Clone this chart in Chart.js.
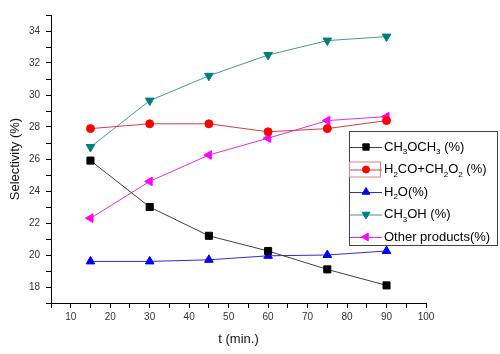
<!DOCTYPE html>
<html>
<head>
<meta charset="utf-8">
<script src="https://cdn.jsdelivr.net/npm/chart.js@4.4.0/dist/chart.umd.min.js"></script>
<style>
  body { margin: 0; background: #fff; }
  canvas { display: block; }
</style>
</head>
<body>
<canvas id="selectivityChart" width="500" height="354"></canvas>
<script>
// time points (min.)
const times = [15, 30, 45, 60, 75, 90];

// selectivity values (%)
const ch3och3 = [25.9, 23.0, 21.2, 20.25, 19.1, 18.1];
const h2coCh2o2 = [27.9, 28.2, 28.2, 27.7, 27.9, 28.4];
const h2o = [19.6, 19.6, 19.7, 19.95, 20.0, 20.25];
const ch3oh = [26.75, 29.65, 31.2, 32.5, 33.4, 33.65];
const otherProducts = [22.3, 24.6, 26.25, 27.3, 28.4, 28.65];

const xTickLabels = [10, 20, 30, 40, 50, 60, 70, 80, 90, 100];
const yTickLabels = [18, 20, 22, 24, 26, 28, 30, 32, 34];

// legend names, "_n" marks a subscript digit
const seriesNames = ["CH_3OCH_3 (%)", "H_2CO+CH_2O_2 (%)", "H_2O(%)", "CH_3OH (%)", "Other products(%)"];

const toPoints = vals => vals.map((v, i) => ({ x: times[i], y: v }));

const styles = [
  { line: "#404040", point: "#000000", pointStyle: "rect", rotation: 0, radius: 5 },
  { line: "#d04040", point: "#ff0000", pointStyle: "circle", rotation: 0, radius: 4 },
  { line: "#3030c0", point: "#0000ff", pointStyle: "triangle", rotation: 0, radius: 5 },
  { line: "#3f9a9a", point: "#007f7f", pointStyle: "triangle", rotation: 180, radius: 5 },
  { line: "#e030e0", point: "#ff00ff", pointStyle: "triangle", rotation: 270, radius: 5 },
];

const allSeries = [ch3och3, h2coCh2o2, h2o, ch3oh, otherProducts];

const datasets = allSeries.map((vals, i) => ({
  label: seriesNames[i].replace(/_/g, ""),
  data: toPoints(vals),
  borderColor: styles[i].line,
  borderWidth: 1,
  backgroundColor: styles[i].point,
  pointBackgroundColor: styles[i].point,
  pointBorderColor: styles[i].point,
  pointBorderWidth: 1,
  pointStyle: styles[i].pointStyle,
  rotation: styles[i].rotation,
  pointRadius: styles[i].radius,
  tension: 0,
}));

// draws text with "_n" subscripts
function drawSubText(ctx, text, x, y) {
  const parts = text.split(/(_\d)/);
  parts.forEach(p => {
    if (!p) return;
    if (p[0] === "_") {
      ctx.font = "8px Arial";
      ctx.fillText(p[1], x, y + 5);
      x += ctx.measureText(p[1]).width;
    } else {
      ctx.font = "13px Arial";
      ctx.fillText(p, x, y);
      x += ctx.measureText(p).width;
    }
  });
}

const boxLegend = {
  id: "boxLegend",
  afterDraw(chart) {
    const ctx = chart.ctx;
    const left = 349, top = 131, w = 148, h = 114;
    ctx.save();
    ctx.fillStyle = "#fff";
    ctx.fillRect(left, top, w, h);
    ctx.strokeStyle = "#444";
    ctx.lineWidth = 1;
    ctx.strokeRect(left + 0.5, top + 0.5, w, h);
    seriesNames.forEach((name, i) => {
      const y = top + 16 + i * 22.5;
      const st = styles[i];
      if (i === 1) {
        ctx.strokeStyle = "#e08080";
        ctx.strokeRect(349.5, y - 7.5, 31, 15);
      }
      ctx.strokeStyle = st.line;
      ctx.beginPath();
      ctx.moveTo(350, y + 0.5);
      ctx.lineTo(382, y + 0.5);
      ctx.stroke();
      ctx.fillStyle = st.point;
      ctx.strokeStyle = st.point;
      Chart.helpers.drawPoint(ctx, {
        pointStyle: st.pointStyle,
        rotation: st.rotation,
        radius: st.radius - 0.5,
        borderWidth: 1,
      }, 366, y);
      ctx.fillStyle = "#000";
      ctx.textBaseline = "middle";
      drawSubText(ctx, name, 384, y);
    });
    ctx.restore();
  }
};

new Chart(document.getElementById("selectivityChart"), {
  type: "line",
  data: { datasets },
  options: {
    responsive: false,
    animation: false,
    layout: { padding: { top: 15, right: 74, left: 0, bottom: 0 } },
    plugins: {
      legend: { display: false },
      tooltip: { enabled: false },
    },
    scales: {
      x: {
        type: "linear",
        min: 5,
        max: 100,
        afterFit: s => { s.height = 51; },
        ticks: {
          stepSize: 5,
          color: "#333",
          font: { family: "Arial", size: 10 },
          padding: 3,
          maxRotation: 0,
          autoSkip: false,
          callback: v => xTickLabels.includes(v) ? String(v) : "",
        },
        grid: {
          drawOnChartArea: false,
          drawTicks: true,
          tickLength: 5,
          tickColor: "#000",
        },
        border: { display: true, color: "#000", width: 1 },
        title: {
          display: true,
          text: "t (min.)",
          color: "#111",
          font: { family: "Arial", size: 13 },
          padding: { top: 4, bottom: 7 },
        },
      },
      y: {
        min: 17,
        max: 35,
        afterFit: s => { s.width = 51; },
        ticks: {
          stepSize: 1,
          color: "#333",
          font: { family: "Arial", size: 10 },
          padding: 6,
          autoSkip: false,
          callback: v => yTickLabels.includes(v) ? String(v) : "",
        },
        grid: {
          drawOnChartArea: false,
          drawTicks: true,
          tickLength: 5,
          tickColor: "#000",
        },
        border: { display: true, color: "#000", width: 1 },
        title: {
          display: true,
          text: "Selectivity (%)",
          color: "#111",
          font: { family: "Arial", size: 13 },
          padding: { top: 8, bottom: 0 },
        },
      },
    },
  },
  plugins: [boxLegend],
});
</script>
</body>
</html>
